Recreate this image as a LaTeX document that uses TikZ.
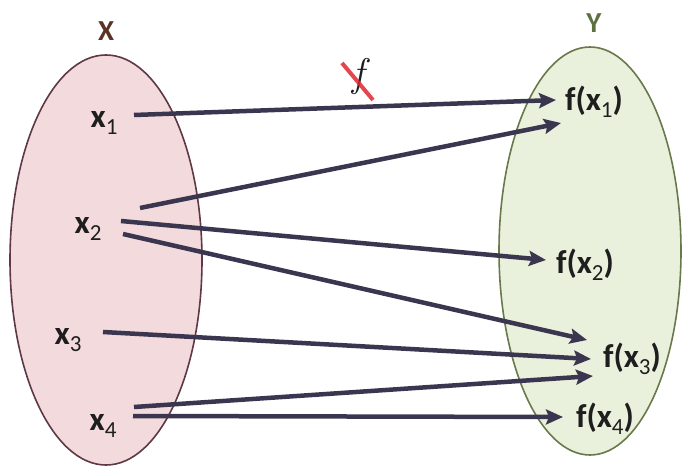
\documentclass[tikz,border=0pt]{standalone}
\usepackage{fontspec}
\setmainfont{Carlito}
\newfontfamily\lmr{Latin Modern Roman}
\usetikzlibrary{arrows.meta}
\definecolor{lfill}{HTML}{F3DADC}
\definecolor{ldraw}{HTML}{5E3846}
\definecolor{rfill}{HTML}{E9F0DB}
\definecolor{rdraw}{HTML}{68794C}
\definecolor{arr}{HTML}{3B3650}
\definecolor{txt}{HTML}{1E1E1E}
\definecolor{xcol}{HTML}{5A3324}
\definecolor{ycol}{HTML}{5C7040}
\definecolor{crossred}{HTML}{E0262E}
\newcommand{\sbs}[1]{\raisebox{-0.2em}{\fontsize{23}{25}\selectfont\mdseries #1}}
\begin{document}
\begin{tikzpicture}[x=1pt,y=-1pt,
  setshape/.style={draw, line width=1.6pt},
  lbl/.style={inner sep=0pt, text=txt, font=\fontsize{33}{36}\selectfont\bfseries},
  setlbl/.style={inner sep=0pt, font=\fontsize{29}{32}\selectfont\bfseries},
  map/.style={draw=arr, line width=4.5pt, -{Stealth[length=17pt,width=15pt,inset=3pt]}}]
\useasboundingbox (0,0) rectangle (687,470);
% sets
\path[setshape, fill=lfill, draw=ldraw] (106,260) ellipse [x radius=96, y radius=205];
\path[setshape, fill=rfill, draw=rdraw] (590,251) ellipse [x radius=91, y radius=204];
\node[setlbl, text=xcol] (X) at (106,31) {X};
\node[setlbl, text=ycol] (Y) at (594,23) {Y};
% labels
\node[lbl] (x1) at (104,123) {x\sbs{1}};
\node[lbl] (x2) at (88,229) {x\sbs{2}};
\node[lbl] (x3) at (68,340) {x\sbs{3}};
\node[lbl] (x4) at (103,426) {x\sbs{4}};
\node[lbl] (fx1) at (594,102) {f(x\sbs{1})};
\node[lbl] (fx2) at (585,265) {f(x\sbs{2})};
\node[lbl] (fx3) at (632,359) {f(x\sbs{3})};
\node[lbl] (fx4) at (605,419) {f(x\sbs{4})};
% connector ends
\coordinate (s1) at (134,115);
\coordinate (e1) at (556,100);
\coordinate (s2a) at (140,208);
\coordinate (e2a) at (561,123);
\coordinate (s2b) at (121,221);
\coordinate (e2b) at (546,260);
\coordinate (s2c) at (123,234);
\coordinate (e2c) at (587,340);
\coordinate (s3) at (103,332);
\coordinate (e3) at (591,359);
\coordinate (s4a) at (134,407);
\coordinate (e4a) at (593,376);
\coordinate (s4b) at (133,416);
\coordinate (e4b) at (563,417);
\draw[map] (s1) -- (e1);
\draw[map] (s2a) -- (e2a);
\draw[map] (s2b) -- (e2b);
\draw[map] (s2c) -- (e2c);
\draw[map] (s3) -- (e3);
\draw[map] (s4a) -- (e4a);
\draw[map] (s4b) -- (e4b);
% crossed-out f
\node[inner sep=0pt, text=txt, font=\fontsize{40}{42}\selectfont\lmr\itshape] (f) at (358,77) {f};
\coordinate (c1) at (342,63);
\coordinate (c2) at (373,100);
\draw[crossred, line width=4pt, opacity=0.85] (c1) -- (c2);
\end{tikzpicture}
\end{document}
